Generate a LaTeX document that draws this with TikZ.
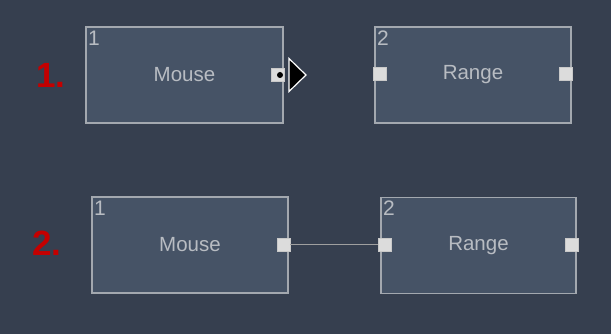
\documentclass[tikz,border=0pt]{standalone}
\usepackage{fontspec}
\setmainfont{Liberation Sans}
\definecolor{bg}{HTML}{363F4F}
\definecolor{boxfill}{HTML}{465366}
\definecolor{boxline}{HTML}{A3A8AF}
\definecolor{txt}{HTML}{B8BCC2}
\definecolor{portfill}{HTML}{DCDCDC}
\definecolor{lbl}{HTML}{C40000}
\begin{document}
\begin{tikzpicture}[x=1pt,y=-1pt,
  blockbox/.style={draw=boxline, line width=1.8pt, fill=boxfill, minimum height=96pt, inner sep=0pt, font=\fontsize{20.5}{22}\selectfont, text=txt},
  portbox/.style={draw=portfill!80!gray, line width=0.5pt, fill=portfill, minimum size=13pt, inner sep=0pt},
  idnum/.style={anchor=north west, inner sep=0pt, font=\fontsize{21}{22}\selectfont, text=txt},
  steplabel/.style={font=\fontsize{35}{36}\selectfont\bfseries, text=lbl, inner sep=0pt},
  wire/.style={draw=gray!75, line width=1pt}]
\fill[bg] (0,0) rectangle (611,334);
\useasboundingbox (0,0) rectangle (611,334);
% row 1
\node[steplabel] (l1) at (51,75) {1.};
\node[blockbox, minimum width=197pt] (m1) at (184.5,75) {Mouse};
\node[idnum] (n1) at (88,31) {1};
\node[blockbox, minimum width=196pt] (r1) at (473,75) {Range};
\node[idnum] (n2) at (377,31) {2};
\node[portbox] (m1o) at (277.5,75) {};
\node[portbox] (r1i) at (380,74) {};
\node[portbox] (r1o) at (566,74) {};
\fill[black] (m1o.center) ++(2.5,0) circle (3pt);
\coordinate (cur) at (289,58.5);
\filldraw[fill=black, draw=white, line width=1.2pt, line join=miter] (cur) -- ++(0,33) -- ++(17,-16.5) -- cycle;
% row 2
\node[steplabel] (l2) at (47,243) {2.};
\node[blockbox, minimum width=196pt] (m2) at (190,245) {Mouse};
\node[idnum] (n3) at (94,201) {1};
\node[blockbox, minimum width=195pt] (r2) at (478.5,245.5) {Range};
\node[idnum] (n4) at (383,201) {2};
\node[portbox] (m2o) at (283.5,244.5) {};
\node[portbox] (r2i) at (385,244.5) {};
\node[portbox] (r2o) at (572,244.5) {};
\draw[wire] (m2o.east) -- (r2i.west);
\end{tikzpicture}
\end{document}
